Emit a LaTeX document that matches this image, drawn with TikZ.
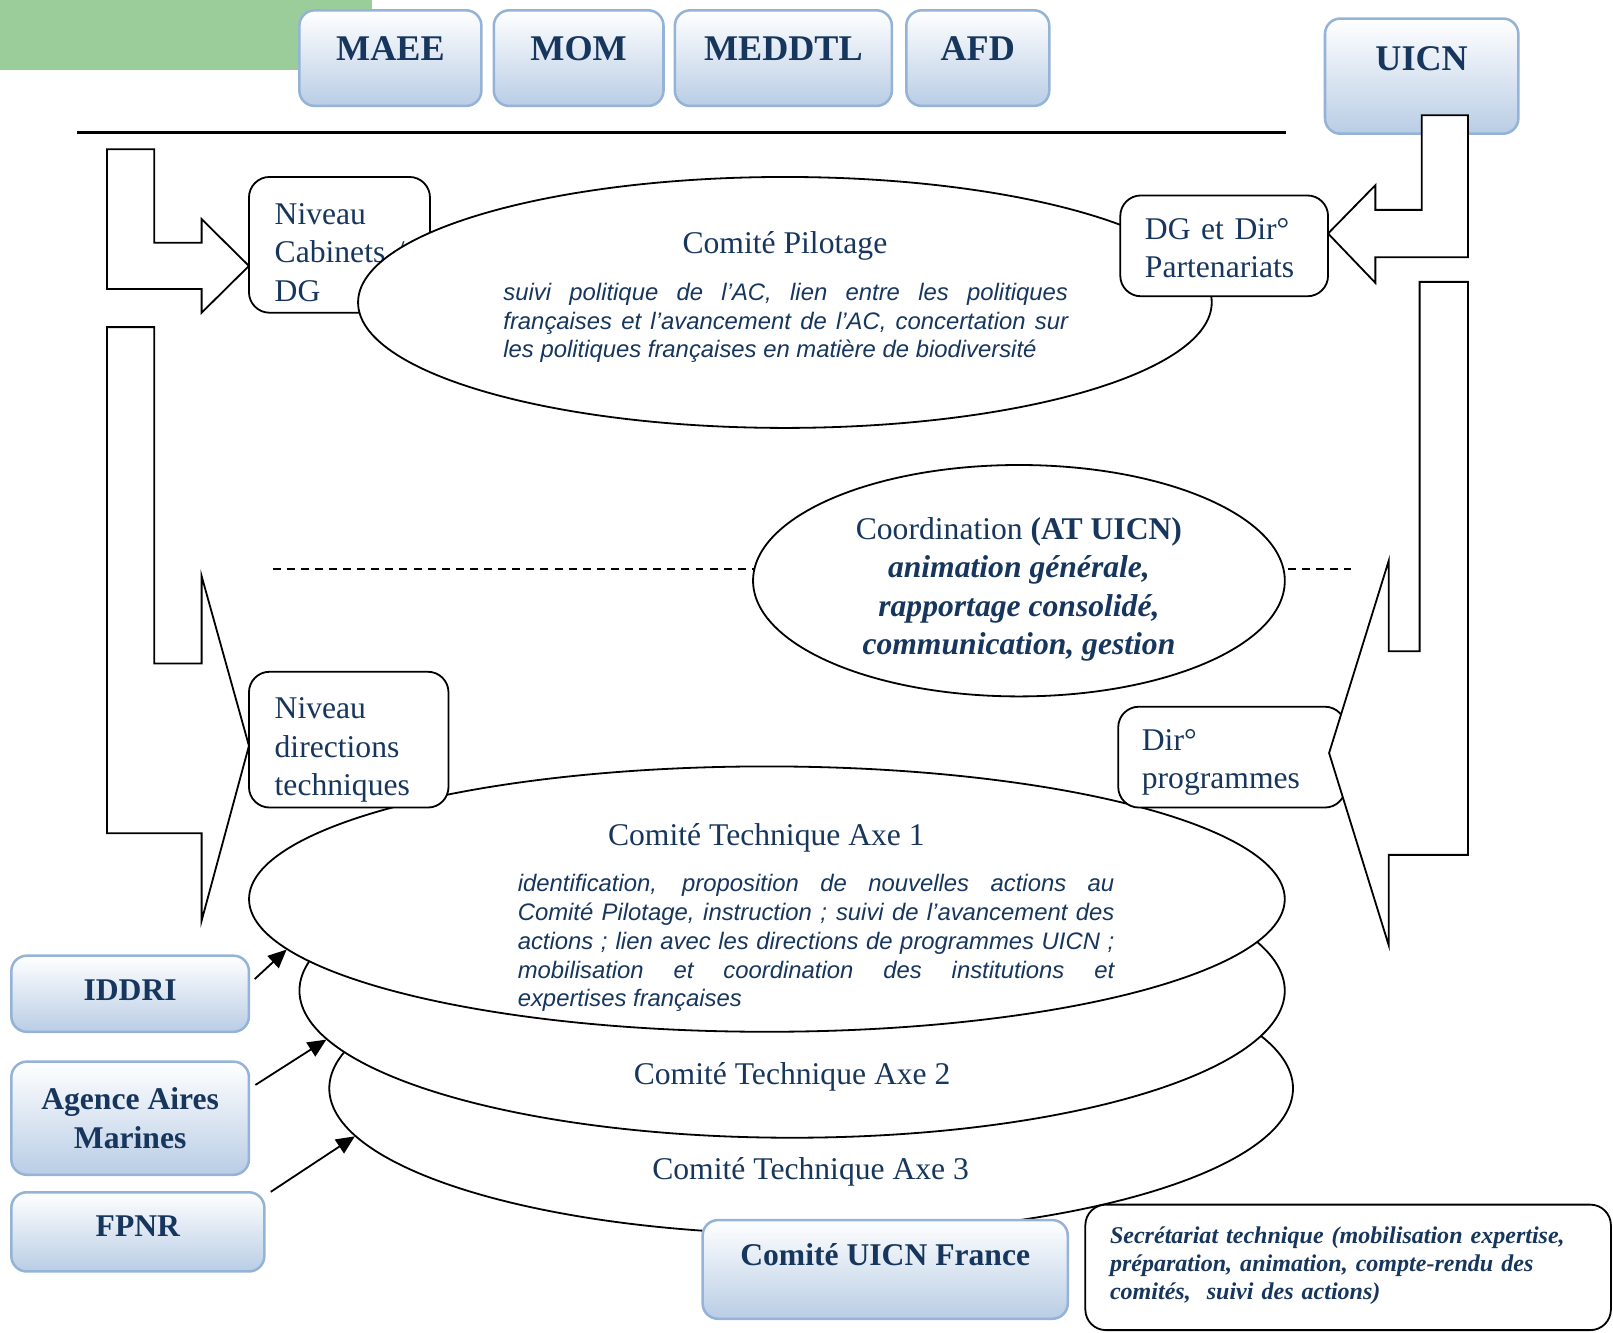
\documentclass[tikz,border=0pt]{standalone}
\usepackage{fontspec}
\setmainfont{Liberation Serif}
\setsansfont{Liberation Sans}
\usetikzlibrary{shapes.geometric,arrows.meta}
\definecolor{txtblue}{RGB}{23,54,93}
\definecolor{boxline}{RGB}{149,179,215}
\definecolor{boxfill}{RGB}{185,205,229}
\definecolor{bandgreen}{RGB}{155,205,155}
\newcommand{\lvlfont}{\fontsize{17.5}{21.3}\selectfont}
\newcommand{\descfont}{\sffamily\itshape\fontsize{13.2}{15.9}\selectfont}
\newcommand{\secfont}{\bfseries\itshape\fontsize{13.3}{15.65}\selectfont}
\newcommand{\jline}[1]{\noindent\hbox to \hsize{\spaceskip=0pt\xspaceskip=0pt #1}\\}
\tikzset{
  org/.style={draw=boxline, line width=1.4pt, rounded corners=0.3cm, top color=white,
    bottom color=boxfill, text=txtblue, font=\bfseries\lvlfont, align=center, inner sep=0pt},
  orgtop/.style={org, font=\bfseries\fontsize{20}{24}\selectfont, text height=13.5pt, text depth=10.8pt},
  lvl/.style={draw, line width=1pt, rounded corners=0.4cm, fill=white, text=txtblue,
    font=\lvlfont, align=left, inner sep=0pt, text height=12pt},
  comite/.style={ellipse, draw, line width=1pt, fill=white, inner sep=0pt},
  txt/.style={text=txtblue, font=\lvlfont, inner sep=0pt, align=center},
  desc/.style={text=txtblue, font=\descfont, inner sep=0pt, anchor=base west, align=justify},
  bigarrow/.style={draw, line width=1pt, fill=white},
  feed/.style={-{Triangle[length=0.36cm,width=0.32cm]}, line width=1pt, shorten <=0.12cm}
}
\begin{document}
\begin{tikzpicture}[x=0.02cm, y=-0.02cm]
\useasboundingbox (0,0) rectangle (1568,1295);
\fill[bandgreen] (0,0) rectangle (362,68);
\foreach \name/\lab/\cx/\w in {maee/MAEE/379.5/3.54, mom/MOM/562.5/3.3, meddtl/MEDDTL/761.5/4.22, afd/AFD/950.5/2.78}
\node[orgtop, minimum width=\w cm, minimum height=1.86cm] (\name) at (\cx,56.5) {\lab};
\node[orgtop, minimum width=3.76cm, minimum height=2.24cm, text depth=19.4pt] (uicn) at (1382,74) {UICN};
\draw[line width=1.7pt] (75,129) -- (1250,129);
\draw[bigarrow] (1382,112) -- (1427,112) -- (1427,250) -- (1337,250) -- (1337,275) -- (1291,227) -- (1337,180) -- (1337,204) -- (1382,204) -- cycle;

% comite pilotage
\node[lvl, minimum width=3.52cm, minimum height=2.64cm, text width=2.52cm, text depth=35pt] (cab) at (330,238) {Niveau\\\mbox{Cabinets /}\\DG};
\node[comite, minimum width=16.6cm, minimum height=4.88cm] (pil) at (763,294) {};
\node[txt] (piltitle) at (763,239.5) {Comité Pilotage};
\node[desc, text width=10.98cm] (piltext) at (489,292) {\jline{suivi politique de l’AC, lien entre les politiques}\jline{françaises et l’avancement de l’AC, concertation sur}les politiques françaises en matière de biodiversité};
\node[lvl, minimum width=4.04cm, minimum height=1.96cm, text width=3.08cm, text depth=19.4pt] (dgp) at (1190,239) {DG et Dir°\\Partenariats};
\draw[bigarrow] (104,145) -- (150,145) -- (150,236) -- (196,236) -- (196,213) -- (242,258.5) -- (196,304) -- (196,281) -- (104,281) -- cycle;
\draw[bigarrow] (104,318) -- (150,318) -- (150,645) -- (196,645) -- (196,560) -- (242,725) -- (196,895) -- (196,810) -- (104,810) -- cycle;

% coordination
\draw[dash pattern=on 4.4pt off 3.4pt, line width=1.2pt] (265,553) -- (1313,553);
\node[comite, minimum width=10.34cm, minimum height=4.5cm] (coord) at (990.5,564.5) {};
\node[txt] (coordtext) at (990.5,573) {Coordination \textbf{(AT UICN)}\\{\bfseries\itshape animation générale,}\\{\bfseries\itshape rapportage consolidé,}\\{\bfseries\itshape communication, gestion}};

% comites techniques
\node[comite, minimum width=18.74cm, minimum height=5.68cm] (ct3) at (788.5,1058) {};
\node[comite, minimum width=19.16cm, minimum height=5.72cm] (ct2) at (770,963) {};
\node[comite, minimum width=20.14cm, minimum height=5.16cm] (ct1) at (745.5,874) {};
\node[txt] (ct1title) at (745,814.5) {Comité Technique Axe 1};
\node[txt] (ct2title) at (770,1046.5) {Comité Technique Axe 2};
\node[txt] (ct3title) at (788,1139.5) {Comité Technique Axe 3};
\node[desc, text width=11.6cm] (ct1text) at (503,867) {\jline{identification, proposition de nouvelles actions au}\jline{Comité Pilotage, instruction ; suivi de l’avancement des}\jline{actions ; lien avec les directions de programmes UICN ;}\jline{mobilisation et coordination des institutions et}expertises françaises};
\node[lvl, minimum width=3.88cm, minimum height=2.64cm, text width=2.88cm, text depth=35pt] (ndt) at (339,719) {Niveau\\directions\\techniques};
\node[lvl, minimum width=4.42cm, minimum height=1.96cm, text width=3.5cm, text depth=19.4pt] (dpr) at (1197.5,736) {Dir°\\programmes};
\draw[bigarrow] (1380,274) -- (1427,274) -- (1427,831) -- (1350,831) -- (1350,919) -- (1292,732) -- (1350,545) -- (1350,633) -- (1380,633) -- cycle;

% partenaires
\node[org, minimum width=4.62cm, minimum height=1.48cm, text height=11.8pt, text depth=4.6pt] (iddri) at (126.5,966) {IDDRI};
\node[org, minimum width=4.62cm, minimum height=2.2cm] (aam) at (126.5,1087) {Agence Aires\\Marines};
\node[org, minimum width=4.92cm, minimum height=1.54cm, text height=11.8pt, text depth=6.3pt] (fpnr) at (134,1197.5) {FPNR};
\draw[feed] (iddri.5) -- (ct1.186);
\draw[feed] (aam.14) -- (ct2.186);
\draw[feed] (fpnr.16) -- (ct3.186);
\node[org, minimum width=7.1cm, minimum height=1.92cm, text height=11.8pt, text depth=16pt] (cuf) at (860.5,1234) {Comité UICN France};
\node[lvl, font=\secfont, minimum width=10.22cm, minimum height=2.44cm, text width=9.26cm, text height=9pt, text depth=35.8pt] (sec) at (1310.5,1232) {Secrétariat technique (mobilisation expertise,\\préparation, animation, compte-rendu des\\comités,\ \ suivi des actions)};
\end{tikzpicture}
\end{document}
